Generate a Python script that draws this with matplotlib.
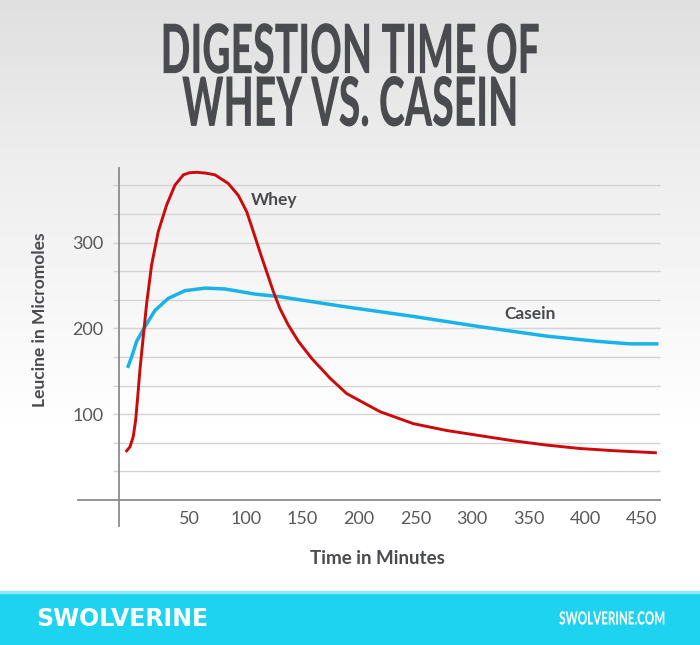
import numpy as np
import matplotlib
matplotlib.use("Agg")
import matplotlib.pyplot as plt
from matplotlib.patches import Rectangle
from matplotlib.patheffects import AbstractPathEffect
from matplotlib.transforms import Affine2D

# ============ DADOS ============
whey_t = [-5.9, -2.1, 0.8, 2.9, 4.7, 6.7, 9.6, 12.6, 17.0, 22.9, 30.3, 37.6, 45.0, 50.5, 56.8, 65.0,
          73.0, 84.7, 93.6, 101.0, 106.8, 112.7, 118.6, 124.5, 130.4, 137.7, 146.6, 158.4, 174.6,
          189.3, 218.7, 248.1, 277.6, 307.1, 336.5, 366.0, 395.4, 424.8, 463.2]
whey_v = [56, 62, 74, 93, 120, 152, 190, 229, 274, 313, 344, 367, 379, 381.5, 382, 381,
          379, 369, 355, 336, 313, 289, 266, 243, 223, 204, 185, 165, 142,
          124, 103, 89, 81, 75, 69, 64, 60, 57.5, 55]

casein_t = [-4.2, -0.6, 3.8, 11.1, 20.0, 31.7, 46.5, 64.1, 81.8, 108.3, 130.4, 149.6,
            189.3, 248.1, 307.1, 366.0, 410.2, 439.6, 464.6]
casein_v = [154, 167, 185, 202, 221, 235, 244, 247, 246, 240, 237, 233,
            225, 214, 202, 191, 185, 182, 182]

x_ticks = [50, 100, 150, 200, 250, 300, 350, 400, 450]
y_ticks = [100, 200, 300]
grid_vals = [100 / 3 * k for k in range(1, 12)]

titulo = "DIGESTION TIME OF\nWHEY VS. CASEIN"

# ============ CORES ============
cinza_txt = "#4a4b4f"
vermelho = "#cc0a0a"
azul = "#17b3ea"
ciano = "#1dd3ef"


# texto "condensado": encolhe os glifos na horizontal em volta de cx (pixels)
class Estreita(AbstractPathEffect):
    def __init__(self, cx, sx):
        super().__init__()
        self.cx, self.sx = cx, sx

    def draw_path(self, renderer, gc, tpath, affine, rgbFace=None):
        t = affine + Affine2D().translate(-self.cx, 0).scale(self.sx, 1).translate(self.cx, 0)
        renderer.draw_path(gc, tpath, t, rgbFace)


W, H = 700, 645
fig = plt.figure(figsize=(7, 6.45), dpi=100)

# fundo em gradiente
bg = fig.add_axes([0, 0, 1, 1], zorder=-10)
grad = np.concatenate([np.linspace(0.875, 0.93, 160), np.linspace(0.93, 1.0, 280), np.ones(205)])
bg.imshow(grad[:, None], aspect="auto", cmap="gray", vmin=0, vmax=1, extent=[0, 1, 0, 1])
bg.set_xlim(0, 1)
bg.set_ylim(0, 1)
bg.axis("off")
# faixa do rodape
bg.add_patch(Rectangle((0, 0), 1, 52 / H, color=ciano, transform=bg.transAxes))
bg.add_patch(Rectangle((0, 52 / H), 1, 2 / H, color="#8fe6f5", transform=bg.transAxes))

# ============ GRAFICO ============
x0, x1 = -11.8, 466
y0, y1 = 0, 387
ax = fig.add_axes([119 / W, (H - 500) / H, (660 - 119) / W, (500 - 168) / H])
ax.patch.set_alpha(0)
ax.set_xlim(x0, x1)
ax.set_ylim(y0, y1)
for s in ax.spines.values():
    s.set_visible(False)

ax.hlines(grid_vals, -17.4, x1, color="#d4d4d4", linewidth=1, clip_on=False, zorder=1)
ax.axhline(0, xmin=-(119 - 78) / (660 - 119), xmax=1, color="#8c8c8c", linewidth=1.3, clip_on=False)
ax.axvline(x0, ymin=-26 / 332, ymax=1, color="#8c8c8c", linewidth=1.3, clip_on=False)

ax.plot(casein_t, casein_v, color=azul, linewidth=2.5, solid_capstyle="butt",
        solid_joinstyle="round", zorder=3)
ax.plot(whey_t, whey_v, color=vermelho, linewidth=2.1, solid_capstyle="butt",
        solid_joinstyle="round", zorder=4)

ax.set_xticks(x_ticks)
ax.set_xticklabels([str(v) for v in x_ticks])
ax.set_yticks(y_ticks)
ax.set_yticklabels([str(v) for v in y_ticks])
ax.tick_params(length=0, labelsize=13, labelcolor="#59595c")
ax.tick_params(axis="x", pad=8)
ax.tick_params(axis="y", pad=11)
for lab in ax.get_xticklabels() + ax.get_yticklabels():
    lab.set_family("Lato")
    lab.set_fontweight("normal")

ax.text(125, 350, "Whey", fontsize=12.5, fontweight="bold", color=cinza_txt,
        family="Lato", ha="center", va="center")
ax.text(351, 217, "Casein", fontsize=12.5, fontweight="bold", color=cinza_txt,
        family="Lato", ha="center", va="center")

fig.text(377 / W, 1 - 558 / H, "Time in Minutes", fontsize=13.5, fontweight="bold",
         color=cinza_txt, family="Lato", ha="center", va="center")
fig.text(40 / W, 1 - 320 / H, "Leucine in Micromoles", fontsize=12.5, fontweight="bold",
         color=cinza_txt, family="Lato", ha="center", va="center", rotation=90)

fig.text(0.5, 1 - 80 / H, titulo, fontsize=49, fontweight="black", color=cinza_txt,
         family="Lato", ha="center", va="center", linespacing=0.8,
         path_effects=[Estreita(W / 2, 0.575)])

fig.text(36 / W, 1 - 619 / H, "SWOLVERINE", fontsize=17, fontweight="bold", color="white",
         family="DejaVu Sans", ha="left", va="center")
fig.text(665 / W, 1 - 619 / H, "SWOLVERINE.COM", fontsize=13, fontweight="black", color="white",
         family="Lato", ha="right", va="center", path_effects=[Estreita(665, 0.64)])

fig.savefig("out.png", dpi=100)
